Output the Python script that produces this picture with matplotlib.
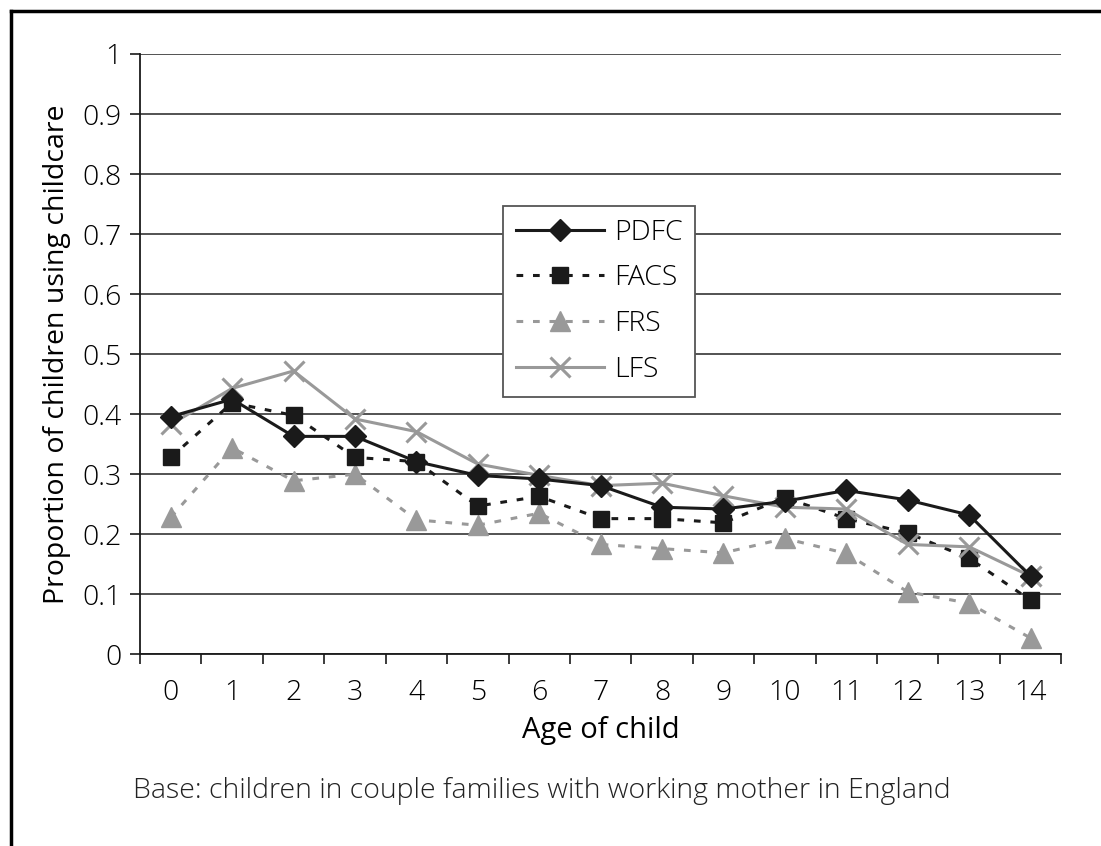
"""
Childcare use by age of child across four surveys.
Output: out.png
"""
import numpy as np
import matplotlib
matplotlib.use("Agg")
import matplotlib.pyplot as plt
from matplotlib.lines import Line2D

plt.rcParams.update({
    "font.family": ["Open Sans", "DejaVu Sans"],
    "font.weight": "light",
    "font.size": 20.5,
})

DARK = "#1a1a1a"
GREY = "#999999"
GRID = "#444444"

ages = list(range(15))
pdfc = [0.396, 0.425, 0.363, 0.363, 0.321, 0.298, 0.292, 0.281, 0.245, 0.242,
        0.255, 0.273, 0.257, 0.232, 0.130]
facs = [0.328, 0.419, 0.398, 0.328, 0.321, 0.247, 0.263, 0.226, 0.226, 0.219,
        0.261, 0.226, 0.202, 0.160, 0.090]
frs  = [0.228, 0.344, 0.289, 0.300, 0.224, 0.215, 0.235, 0.183, 0.176, 0.169,
        0.193, 0.168, 0.104, 0.085, 0.027]
lfs  = [0.383, 0.443, 0.472, 0.392, 0.371, 0.317, 0.298, 0.281, 0.285, 0.264,
        0.245, 0.242, 0.183, 0.179, 0.130]
y_ticks = [0, 0.1, 0.2, 0.3, 0.4, 0.5, 0.6, 0.7, 0.8, 0.9, 1]
y_labels = ["0", "0.1", "0.2", "0.3", "0.4", "0.5", "0.6", "0.7", "0.8", "0.9", "1"]

fig = plt.figure(figsize=(11.01, 8.46), dpi=100)
ax = fig.add_axes([140 / 1101, 1 - 654.3 / 846, (1061.3 - 140) / 1101, (654.3 - 54) / 846])

dash = (0, (2.2, 3.2))
ax.plot(ages, frs, color=GREY, linestyle=dash, linewidth=2.2, marker="^",
        markersize=14, markeredgecolor=GREY, label="FRS", zorder=3)
ax.plot(ages, facs, color=DARK, linestyle=dash, linewidth=2.2, marker="s",
        markersize=12, markeredgecolor=DARK, label="FACS", zorder=4)
ax.plot(ages, lfs, color=GREY, linestyle="-", linewidth=2.2, marker="x",
        markersize=14, markeredgewidth=2.2, label="LFS", zorder=5)
ax.plot(ages, pdfc, color=DARK, linestyle="-", linewidth=2.2, marker="D",
        markersize=11, markeredgecolor=DARK, label="PDFC", zorder=6)

ax.set_xlim(-0.5, 14.5)
ax.set_ylim(0, 1)
ax.set_yticks(y_ticks)
ax.set_yticklabels(y_labels)
ax.set_xticks(ages)
ax.set_xticks(np.arange(-0.5, 15, 1), minor=True)
ax.tick_params(axis="x", which="major", length=0, pad=18, labelsize=20.5)
ax.tick_params(axis="x", which="minor", length=7, width=1.2, color=DARK)
ax.tick_params(axis="y", length=7, width=1.2, color=DARK, labelsize=20.5, pad=6)
ax.grid(axis="y", color=GRID, linewidth=1.3)
ax.set_axisbelow(True)
for s in ["top", "right"]:
    ax.spines[s].set_visible(False)
for s in ["left", "bottom"]:
    ax.spines[s].set_color(DARK)
    ax.spines[s].set_linewidth(1.3)

ax.set_xlabel("Age of child", fontsize=21, labelpad=6)
ax.set_ylabel("Proportion of children using childcare", fontsize=20.5, labelpad=8)

handles = [
    Line2D([], [], color=DARK, linewidth=2.2, marker="D", markersize=11),
    Line2D([], [], color=DARK, linestyle=dash, linewidth=2.2, marker="s", markersize=12),
    Line2D([], [], color=GREY, linestyle=dash, linewidth=2.2, marker="^", markersize=14),
    Line2D([], [], color=GREY, linewidth=2.2, marker="x", markersize=14, markeredgewidth=2.2),
]
leg = ax.legend(handles, ["PDFC", "FACS", "FRS", "LFS"], loc="upper left",
                bbox_to_anchor=((503 - 140) / 921.3, (654.3 - 206) / 600.3),
                borderaxespad=0, frameon=True, fancybox=False,
                edgecolor="#555555", framealpha=1,
                handlelength=3.1, handletextpad=0.35, labelspacing=0.62,
                borderpad=0.45, fontsize=20.5)
leg.get_frame().set_linewidth(1.3)

fig.text(542 / 1101, 1 - 791 / 846,
         "Base: children in couple families with working mother in England",
         ha="center", va="center", fontsize=20.5, color="#222222")

# frame around the figure (top and left edges)
fig.add_artist(Line2D([11 / 1101, 11 / 1101], [0, 1 - 11 / 846],
                      transform=fig.transFigure, color="black", linewidth=2.5))
fig.add_artist(Line2D([11 / 1101, 1], [1 - 11 / 846, 1 - 11 / 846],
                      transform=fig.transFigure, color="black", linewidth=2.5))

fig.savefig("out.png", dpi=100)
